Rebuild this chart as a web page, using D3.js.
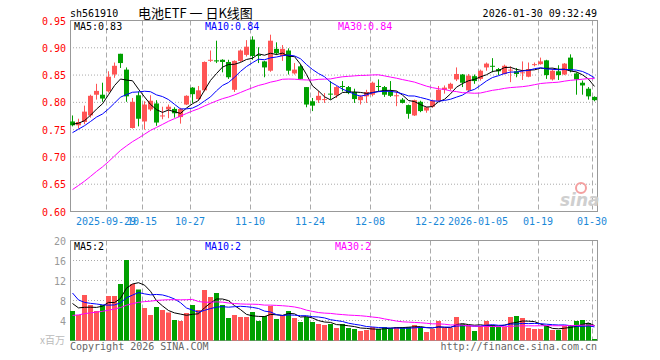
<!DOCTYPE html>
<html><head><meta charset="utf-8">
<script src="https://cdn.jsdelivr.net/npm/d3@7"></script>
<style>body{margin:0;background:#fff}svg{display:block}</style>
</head><body><svg id="c" width="660" height="360"></svg>
<script>
const dates = ["2025-09-19","2025-09-22","2025-09-23","2025-09-24","2025-09-25","2025-09-26","2025-09-29","2025-09-30","2025-10-09","2025-10-10",
"2025-10-13","2025-10-14","2025-10-15","2025-10-16","2025-10-17","2025-10-20","2025-10-21","2025-10-22","2025-10-23","2025-10-24",
"2025-10-27","2025-10-28","2025-10-29","2025-10-30","2025-10-31","2025-11-03","2025-11-04","2025-11-05","2025-11-06","2025-11-07",
"2025-11-10","2025-11-11","2025-11-12","2025-11-13","2025-11-14","2025-11-17","2025-11-18","2025-11-19","2025-11-20","2025-11-21",
"2025-11-24","2025-11-25","2025-11-26","2025-11-27","2025-11-28","2025-12-01","2025-12-02","2025-12-03","2025-12-04","2025-12-05",
"2025-12-08","2025-12-09","2025-12-10","2025-12-11","2025-12-12","2025-12-15","2025-12-16","2025-12-17","2025-12-18","2025-12-19",
"2025-12-22","2025-12-23","2025-12-24","2025-12-25","2025-12-26","2025-12-29","2025-12-30","2025-12-31","2026-01-05","2026-01-06",
"2026-01-07","2026-01-08","2026-01-09","2026-01-12","2026-01-13","2026-01-14","2026-01-15","2026-01-16","2026-01-19","2026-01-20",
"2026-01-21","2026-01-22","2026-01-23","2026-01-26","2026-01-27","2026-01-28","2026-01-29","2026-01-30"];
const open = [.765,.758,.764,.776,.814,.814,.820,.851,.889,.860, .753,.813,.765,.787,.798,.775,.787,.788,.773,.796,
.827,.806,.822,.877,.877,.878,.874,.823,.876,.887, .915,.887,.875,.858,.898,.885,.895,.853,.866,.828,
.802,.804,.805,.816,.813,.830,.828,.819,.804,.811, .814,.830,.828,.820,.812,.805,.795,.776,.801,.785,
.792,.803,.823,.825,.842,.851,.822,.848,.843,.864, .867,.861,.852,.859,.857,.854,.847,.869,.870,.877,
.842,.857,.851,.882,.853,.836,.825,.810];
const high = [.776,.770,.794,.814,.834,.836,.857,.873,.889,.864, .808,.820,.802,.813,.804,.792,.796,.791,.790,.813,
.828,.830,.875,.895,.913,.879,.878,.877,.897,.914, .921,.901,.876,.924,.910,.905,.899,.872,.870,.828,
.808,.821,.817,.839,.830,.839,.830,.825,.813,.823, .838,.842,.830,.839,.820,.808,.796,.805,.803,.792,
.805,.830,.831,.836,.864,.852,.852,.851,.860,.873, .881,.863,.869,.866,.863,.875,.873,.873,.882,.878,
.862,.868,.872,.888,.855,.840,.828,.811];
const low = [.756,.752,.760,.772,.805,.801,.818,.845,.863,.801, .752,.756,.750,.784,.757,.769,.771,.772,.761,.795,
.799,.803,.820,.874,.872,.855,.843,.819,.874,.884, .878,.872,.846,.856,.887,.876,.851,.851,.842,.791,
.784,.799,.799,.805,.808,.820,.815,.799,.796,.799, .811,.820,.810,.810,.793,.798,.770,.775,.782,.781,
.790,.802,.816,.822,.839,.828,.819,.834,.840,.858, .855,.850,.851,.837,.846,.841,.846,.866,.869,.843,
.840,.841,.850,.855,.814,.814,.805,.802];
const close = [.758,.764,.783,.812,.821,.807,.847,.867,.872,.811, .801,.770,.796,.803,.763,.776,.792,.780,.788,.812,
.815,.822,.874,.878,.875,.874,.846,.876,.895,.902, .885,.886,.864,.913,.890,.898,.858,.860,.843,.796,
.794,.812,.806,.815,.828,.829,.817,.806,.811,.819, .836,.829,.814,.812,.813,.799,.779,.804,.784,.791,
.803,.823,.827,.834,.852,.836,.849,.839,.858,.871, .866,.857,.867,.860,.852,.855,.861,.870,.875,.850,
.858,.850,.871,.858,.842,.831,.811,.804];
const volume = [5.9,5.1,9.1,7.1,5.9,7.1,8.9,8.9,11.3,16.1, 11.3,10.2,6.5,5.1,6.7,6.1,5.6,4.1,3.9,5.5,
7.1,6.1,10.1,8.7,9.5,7.1,4.5,5.1,4.7,4.7, 5.7,3.9,4.9,6.9,4.3,5.1,5.9,4.5,3.7,4.7,
3.7,3.3,3.1,3.3,2.5,3.3,2.5,2.3,1.9,2.1, 2.7,2.3,2.7,2.5,2.7,2.7,2.7,3.1,2.7,1.7,
2.3,3.9,2.5,2.5,4.7,3.3,2.9,1.9,2.9,3.9, 3.1,2.7,2.7,4.7,4.9,4.5,2.5,2.3,2.3,2.9,
2.1,2.1,2.9,3.1,3.9,4.1,3.5,0.3];
// estimated sessions before the visible window (feed the moving averages only)
const priorClose = [0.54,0.545,0.55,0.548,0.555,0.56,0.558,0.562,0.565,0.567,0.575,0.585,0.59,0.60,0.61,0.62,0.635,0.65,0.665,0.68,0.70,0.72,0.735,0.74,0.75,0.755,0.76,0.762,0.765];
const priorVolume = [1.8,1.9,2.0,1.9,2.0,2.1,2.0,2.2,2.1,2.2,2.3,2.2,2.3,2.3,3.5,3.8,4.2,4.5,4.8,5.3,19,14,9,7.2,8.8,9.5,8.5,7.0,6.1];
const tickDates = ["2025-09-29","2025-10-15","2025-10-27","2025-11-10","2025-11-24","2025-12-08","2025-12-22","2026-01-05","2026-01-19","2026-01-30"];
const tickLabels = ["2025-09-29","10-15","10-27","11-10","11-24","12-08","12-22","2026-01-05","01-19","01-30"];
const priceTicks = [0.60,0.65,0.70,0.75,0.80,0.85,0.90,0.95];
const volTicks = [4,8,12,16,20];
const maPeriods = [5,10,30];
const maColors = ["#000000","#0000ff","#ff00ff"];
const priceMaLabels = ["MA5:0.83","MA10:0.84","MA30:0.84"];
const volMaLabels = ["MA5:2","MA10:2","MA30:2"];

const svg = d3.select("#c");
const mono = "'DejaVu Sans Mono', monospace";
const UP = "#ff5555", DOWN = "#00a000";
const L = 70, R = 598;
const x = d3.scaleBand().domain(dates).range([L, R]).paddingInner(0).paddingOuter(0);
const cx = d => x(d) + 2.5;
const y = d3.scaleLinear().domain([0.60, 0.95]).range([211.5, 20.5]);
const yv = d3.scaleLinear().domain([0, 20]).range([340.5, 240.5]);

function ma(prior, vals, n) {
  const all = prior.concat(vals);
  return vals.map((v, i) => d3.mean(all.slice(prior.length + i - n + 1, prior.length + i + 1)));
}
const data = dates.map((d, i) => ({d, o: open[i], h: high[i], l: low[i], c: close[i], v: volume[i], up: close[i] >= open[i]}));

// header
svg.append("text").attr("x", 70).attr("y", 17).attr("font-family", mono).attr("font-size", 10).attr("fill", "#000").text("sh561910");
svg.append("text").attr("x", 138).attr("y", 18).attr("font-family", "'Noto Sans CJK SC', sans-serif").attr("font-size", 13)
  .attr("fill", "#000").style("white-space", "pre").text("电池ETF 一 日K线图");
svg.append("text").attr("x", 597).attr("y", 17).attr("text-anchor", "end").attr("font-family", mono).attr("font-size", 10).attr("fill", "#000").text("2026-01-30 09:32:49");

function panelGrid(yScale, ticks, top, bottom, fmt, color) {
  const g = svg.append("g");
  ticks.forEach(t => {
    const yy = yScale(t);
    if (yy > top + 1 && yy < bottom - 1) {
      g.append("line").attr("x1", L).attr("x2", R).attr("y1", yy).attr("y2", yy)
        .attr("stroke", "#aaa").attr("stroke-dasharray", "1,2");
    }
  });
  tickDates.forEach(td => {
    const xx = x(td) + 0.5;
    g.append("line").attr("x1", xx).attr("x2", xx).attr("y1", top).attr("y2", bottom)
      .attr("stroke", "#aaa").attr("stroke-dasharray", "5,3");
  });
  g.append("rect").attr("x", L + 0.5).attr("y", top).attr("width", R - L - 1).attr("height", bottom - top)
    .attr("fill", "none").attr("stroke", "#999");
  ticks.forEach(t => {
    g.append("text").attr("x", 66).attr("y", yScale(t) + 4).attr("text-anchor", "end")
      .attr("font-family", mono).attr("font-size", 10).attr("fill", color).text(fmt(t));
  });
}
panelGrid(y, priceTicks, 20.5, 211.5, d3.format(".2f"), "#ff0000");
panelGrid(yv, volTicks, 240.5, 340.5, d3.format("d"), "#999");

// watermark
svg.append("circle").attr("cx", 581).attr("cy", 188).attr("r", 5).attr("fill", "none").attr("stroke", "#f4a0a0").attr("stroke-width", 2);
svg.append("text").attr("x", 560).attr("y", 206).attr("font-family", "'DejaVu Sans', sans-serif").attr("font-style", "italic").attr("font-weight", "bold").attr("font-size", 17).attr("fill", "#cfcfcf").text("sina");

// x labels
tickDates.forEach((td, i) => {
  svg.append("text").attr("x", x(td)).attr("y", 225).attr("text-anchor", "middle")
    .attr("font-family", mono).attr("font-size", 10).attr("fill", "#1a88d8").text(tickLabels[i]);
});

// candles
const cg = svg.append("g");
cg.selectAll("line.w").data(data).join("line")
  .attr("x1", d => cx(d.d)).attr("x2", d => cx(d.d))
  .attr("y1", d => y(d.h)).attr("y2", d => y(d.l))
  .attr("stroke", d => d.up ? UP : DOWN);
cg.selectAll("rect.b").data(data).join("rect")
  .attr("x", d => x(d.d)).attr("width", 5)
  .attr("y", d => y(Math.max(d.o, d.c)))
  .attr("height", d => Math.max(1, Math.abs(y(d.o) - y(d.c))))
  .attr("fill", d => d.up ? UP : DOWN);

// price MAs
maPeriods.forEach((n, k) => {
  const m = ma(priorClose, close, n);
  svg.append("path").datum(m).attr("fill", "none").attr("stroke", maColors[k]).attr("stroke-width", 1)
    .attr("d", d3.line().x((v, i) => cx(dates[i])).y(v => y(v)));
});

// volume bars
svg.append("g").selectAll("rect").data(data).join("rect")
  .attr("x", d => x(d.d)).attr("width", 5)
  .attr("y", d => yv(d.v)).attr("height", d => yv(0) - yv(d.v))
  .attr("fill", d => d.up ? UP : DOWN);
maPeriods.forEach((n, k) => {
  const m = ma(priorVolume, volume, n);
  svg.append("path").datum(m).attr("fill", "none").attr("stroke", maColors[k]).attr("stroke-width", 1)
    .attr("d", d3.line().x((v, i) => cx(dates[i])).y(v => yv(v)));
});

// MA labels
const maX = [74, 205, 338];
const volMaX = [74, 205, 335];
priceMaLabels.forEach((t, k) => svg.append("text").attr("x", maX[k]).attr("y", 30).attr("font-family", mono).attr("font-size", 10).attr("fill", maColors[k]).text(t));
volMaLabels.forEach((t, k) => svg.append("text").attr("x", volMaX[k]).attr("y", 250).attr("font-family", mono).attr("font-size", 10).attr("fill", maColors[k]).text(t));

// footer
svg.append("text").attr("x", 65).attr("y", 344).attr("text-anchor", "end").attr("font-family", "'Noto Sans CJK SC', sans-serif").attr("font-size", 10).attr("fill", "#bbb").text("x百万");
svg.append("text").attr("x", 70).attr("y", 350).attr("font-family", mono).attr("font-size", 10).attr("fill", "#666").text("Copyright 2026 SINA.COM");
svg.append("text").attr("x", 597).attr("y", 350).attr("text-anchor", "end").attr("font-family", mono).attr("font-size", 10).attr("fill", "#666").text("http://finance.sina.com.cn");
</script></body></html>
